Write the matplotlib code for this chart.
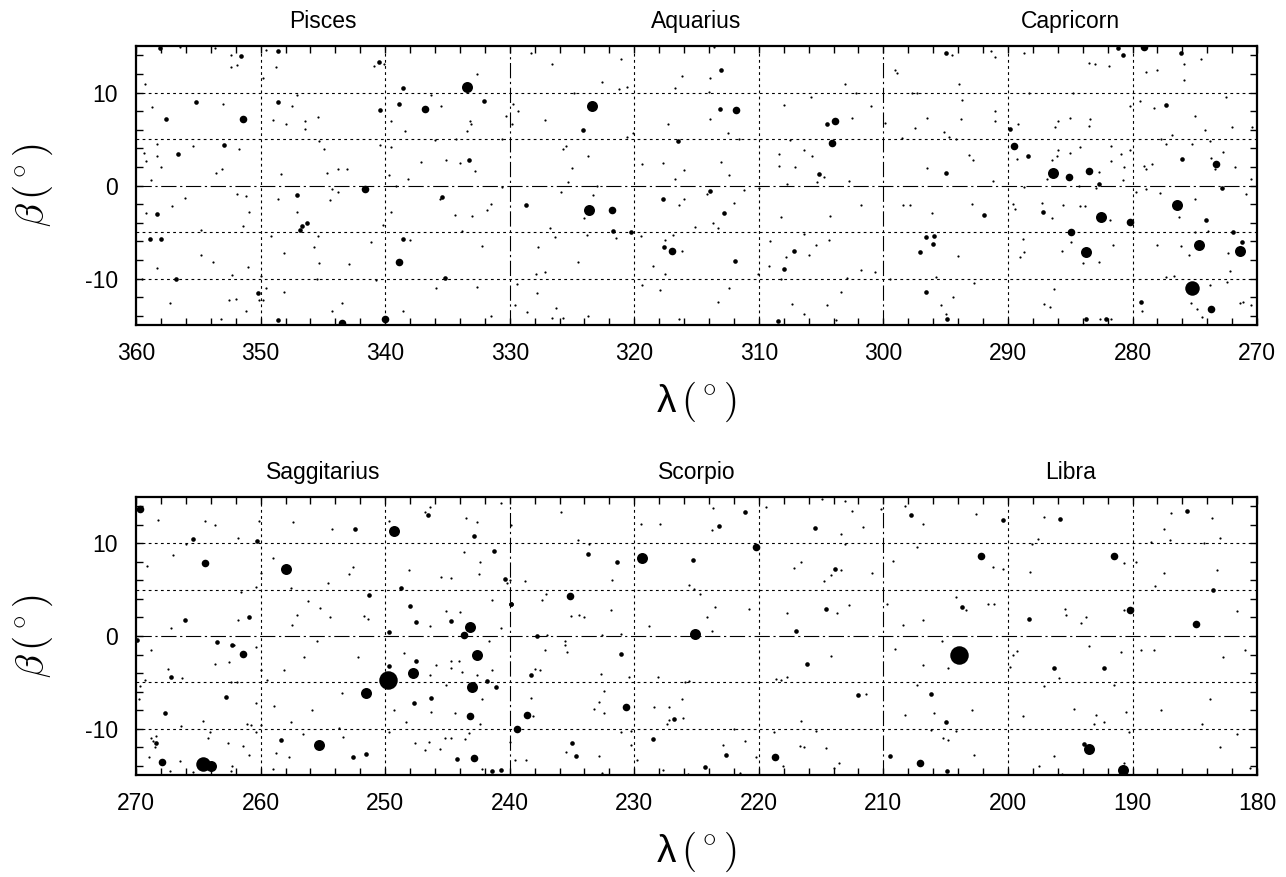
import matplotlib
matplotlib.use('Agg')
import matplotlib.pyplot as plt
from matplotlib.ticker import MultipleLocator
import numpy as np

plt.rcParams['font.family'] = ['Liberation Sans', 'DejaVu Sans']
plt.rcParams['mathtext.fontset'] = 'cm'
plt.rcParams['axes.unicode_minus'] = False
plt.rcParams['lines.scale_dashes'] = False

# ecliptic longitude / latitude of stars, grouped by brightness class
# top panel: 360..270 deg
top_mag6 = [
    (356.5, 14.9), (353.7, 14.8), (352.4, 14.0), (352.4, 12.8), (351.9, 13.0), (349.6, 14.6),
    (348.8, 12.8), (349.8, 11.6), (340.9, 12.9), (340.1, 13.1), (332.6, 12.0), (359.3, 10.9),
    (353.0, 8.8), (347.1, 9.7), (347.5, 8.6), (358.7, 8.4), (336.3, 9.7), (335.5, 8.5),
    (333.2, 6.9), (333.1, 6.6), (333.4, 5.9), (330.3, 7.5), (339.5, 6.9), (338.4, 5.9),
    (339.5, 4.1), (340.4, 4.4), (336.0, 4.9), (334.3, 5.0), (330.6, 5.0), (337.1, 2.5),
    (335.1, 2.7), (334.0, 2.4), (332.8, 1.6), (338.2, 0.7), (339.7, 1.1), (339.1, -0.1),
    (330.6, -0.2), (343.8, 1.8), (343.1, 1.8), (344.7, 1.4), (344.3, -0.4), (343.8, -0.7),
    (344.4, -1.6), (345.4, 7.4), (346.4, 6.9), (346.4, 6.1), (348.0, 6.6), (349.0, 7.1),
    (345.3, 4.8), (344.9, 3.9), (348.4, 1.2), (351.7, 3.9), (355.4, 4.3), (353.1, 1.8),
    (353.6, 1.4), (358.3, 4.5), (358.3, 3.2), (359.4, 3.5), (359.2, 2.6), (358.0, 2.0),
    (358.8, 0.6), (356.1, -1.3), (357.1, -2.2), (359.2, -3.0), (351.9, -0.9), (351.2, -1.1),
    (350.9, -2.9), (351.4, -4.4), (354.8, -4.8), (354.8, -7.5), (353.8, -8.2), (358.3, -8.9),
    (359.5, -10.1), (352.3, -9.6), (351.0, -8.8), (357.3, -12.6), (352.5, -12.3), (352.0, -12.2),
    (351.2, -13.5), (353.2, -14.3), (350.1, -12.3), (349.8, -12.3), (349.6, -11.0), (350.0, -9.7),
    (348.1, -11.5), (348.6, -1.5), (347.1, -2.8), (345.4, -5.4), (345.7, -6.6), (348.1, -7.3),
    (349.2, -5.4), (345.3, -8.3), (345.5, -10.1), (342.9, -8.4), (341.1, -6.1), (343.5, -12.6),
    (344.3, -13.5), (340.7, -10.2), (338.6, -13.5), (340.2, -4.2), (339.5, -2.8), (338.0, -5.9),
    (331.5, -2.0), (331.8, -2.6), (333.0, -3.3), (334.4, -3.2), (333.8, -4.9), (332.2, -6.5),
    (335.9, -11.0), (332.6, -10.9), (331.5, -14.0), (335.6, -1.5),
    (328.3, 14.2), (326.6, 13.1), (321.1, 13.6), (322.6, 11.1), (321.2, 10.4), (320.6, 10.6),
    (324.8, 9.9), (329.7, 8.8), (329.3, 8.0), (329.8, 6.6), (327.2, 7.0), (320.1, 5.7),
    (320.6, 5.2), (325.5, 4.3), (325.7, 3.9), (323.7, 3.2), (325.0, 1.9), (325.3, 0.4),
    (325.9, -0.7), (323.0, -0.1), (323.3, -1.0), (324.0, -3.5), (321.5, -5.6), (319.5, -5.4),
    (326.8, -4.6), (326.4, -5.5), (323.8, -5.3), (327.7, -6.6), (324.5, -8.2), (327.9, -9.5),
    (327.2, -9.3), (329.4, -10.6), (327.8, -11.6), (329.6, -12.9), (328.6, -13.6), (326.3, -13.2),
    (326.6, -14.2), (325.7, -14.2), (323.7, -14.0), (316.2, 11.8), (316.7, 10.5), (313.9, 11.6),
    (314.0, 10.1), (313.6, 14.9), (313.9, 7.2), (317.3, 6.6), (312.5, 5.7), (311.6, 5.0),
    (319.4, 2.3), (317.7, 2.4), (316.0, 1.7), (313.0, 2.5), (316.7, 0.7), (312.4, 1.1),
    (314.2, -0.9), (311.2, -0.5), (310.0, -0.3), (316.0, -1.4), (316.4, -2.1), (312.0, -1.9),
    (313.7, -4.0), (313.3, -4.6), (315.1, -4.5), (316.9, -5.3), (317.5, -5.9), (316.2, -7.0),
    (318.5, -8.6), (317.5, -9.5), (319.4, -10.7), (317.9, -11.2), (312.4, -11.0), (313.3, -12.5),
    (316.4, -14.4), (308.0, 8.7), (305.8, 9.5), (303.1, 10.9), (302.2, 9.9), (301.0, 8.6),
    (302.5, 7.3), (307.5, 4.9), (306.4, 3.8), (305.7, 3.2), (308.4, 3.4), (308.4, 2.1),
    (307.1, 2.0), (304.8, 0.9), (305.3, 0.4), (307.7, 0.2), (302.8, 0.5), (301.8, -2.1),
    (304.3, -3.3), (308.2, -3.4), (306.4, -5.2), (304.4, -5.9), (305.4, -6.4), (309.1, -6.0),
    (306.0, -7.5), (307.8, -7.7), (309.2, -8.6), (310.1, -9.5), (308.2, -10.0), (302.9, -9.9),
    (301.8, -9.1), (300.7, -9.3), (303.4, -11.4), (307.3, -12.7), (306.4, -13.8), (304.5, -12.8),
    (303.8, -14.5),
    (294.5, 14.0), (291.4, 14.5), (291.0, 13.8), (299.1, 12.4), (298.9, 12.1), (293.9, 10.9),
    (288.7, 14.3), (283.5, 13.2), (283.0, 13.1), (281.9, 12.9), (275.9, 13.1), (274.5, 13.6),
    (278.9, 12.2), (278.0, 12.4), (275.9, 11.3), (297.7, 10.0), (297.3, 10.0), (293.7, 9.2),
    (296.5, 7.3), (297.5, 6.2), (299.9, 6.7), (293.8, 7.2), (295.1, 5.8), (294.7, 5.2),
    (294.2, 5.0), (298.5, 5.1), (291.0, 8.0), (291.0, 6.9), (293.1, 3.3), (292.8, 2.7),
    (296.5, 1.9), (291.2, 0.5), (288.3, 10.0), (284.8, 9.9), (289.2, 6.6), (286.2, 6.3),
    (286.0, 6.9), (285.0, 7.3), (283.4, 7.2), (283.5, 6.4), (289.3, 2.9), (286.0, 3.8),
    (286.1, 3.2), (286.5, 2.7), (285.0, 3.5), (284.2, 4.1), (286.9, 0.7), (282.7, 1.5),
    (282.9, -0.3), (284.3, 0.0), (281.7, 4.3), (280.9, 3.4), (281.7, 2.6), (280.7, 2.0),
    (280.8, 0.6), (280.2, 8.5), (280.2, 3.8), (288.7, -0.2), (289.6, -2.0), (289.4, -2.5),
    (287.3, -1.9), (286.5, -3.5), (285.6, -2.1), (284.2, -2.2), (283.8, -2.2), (281.8, -3.7),
    (284.9, -6.1), (284.0, -8.3), (285.7, -7.0), (282.7, -8.2), (281.6, -6.4), (288.8, -5.8),
    (288.7, -7.2), (289.0, -7.7), (298.4, -2.1), (297.9, -2.1), (296.1, -3.0), (292.9, -2.0),
    (294.0, -7.6), (299.5, -10.0), (295.8, -9.8), (294.4, -12.0), (292.7, -10.5), (295.4, -12.9),
    (295.0, -13.8), (286.3, -11.1), (287.1, -12.7), (286.6, -13.1), (282.6, -14.3), (281.7, -14.4),
    (279.7, -0.7), (278.9, -0.4), (277.8, -0.8), (276.3, -3.4), (275.0, -1.5), (270.9, -0.9),
    (273.7, 3.0), (273.4, 1.8), (272.7, 3.6), (271.8, 2.0), (270.5, 0.7), (279.1, 2.1),
    (278.9, 1.8), (278.4, 2.3), (277.7, 5.0), (277.3, 4.5), (276.8, 5.4), (275.2, 4.5),
    (273.8, 4.8), (279.4, 9.1), (278.3, 8.3), (275.0, 7.5), (274.2, 6.0), (272.5, 9.5),
    (272.0, 6.3), (270.4, 6.3), (275.0, -5.0), (273.9, -4.9), (275.5, -7.5), (272.3, -7.3),
    (278.0, -6.4), (276.1, -6.5), (272.2, -9.2), (272.4, -10.4), (277.3, -9.8), (276.7, -9.7),
    (273.8, -10.7), (275.3, -12.6), (274.8, -13.3), (274.4, -14.1), (271.4, -12.6), (271.1, -12.5),
    (270.5, -12.9), (279.2, -13.5),
]
top_mag5 = [
    (358.1, 14.8), (351.6, 13.9), (348.6, 14.5), (340.5, 13.3), (338.6, 10.5), (355.2, 9.0),
    (348.6, 9.0), (357.6, 7.2), (338.9, 8.8), (340.4, 8.1), (332.1, 9.1), (333.3, 2.7),
    (352.9, 4.4), (356.6, 3.4), (358.3, -3.1), (358.9, -5.8), (358.0, -5.7), (356.8, -10.1),
    (350.2, -11.6), (348.6, -14.5), (347.1, -1.0), (346.3, -4.0), (346.7, -4.3), (346.8, -4.8),
    (338.6, -5.7), (335.4, -1.2), (335.2, -9.9),
    (313.0, 12.4), (313.1, 8.2), (324.1, 6.0), (316.5, 4.8), (328.7, -2.1), (321.7, -4.9),
    (320.3, -5.0), (313.9, -0.6), (317.7, -1.4), (312.8, -3.0), (317.6, -6.6), (311.9, -8.1),
    (308.5, -14.6), (304.5, 6.6), (305.2, 1.2), (307.2, -7.0), (308.0, -9.0),
    (295.0, 14.3), (281.2, 14.8), (280.8, 14.0), (276.1, 14.3), (295.0, 1.4), (289.8, 6.1),
    (288.4, 3.2), (282.7, 0.2), (287.2, -2.9), (291.9, -3.2), (296.6, -5.5), (295.9, -5.4),
    (296.0, -6.3), (297.1, -7.1), (296.6, -11.4), (294.9, -14.4), (283.7, -14.4), (282.1, -14.3),
    (274.1, -3.7), (272.8, -0.3), (276.0, 2.8), (277.3, 8.7), (271.9, -5.0), (271.2, -6.1),
    (279.3, -12.5),
]
top_mag4 = [
    (351.4, 7.2), (336.8, 8.2), (341.6, -0.4), (343.5, -14.8), (340.0, -14.4), (338.9, -8.2),
    (311.8, 8.1), (321.8, -2.6), (317.0, -7.0), (303.9, 6.9), (304.1, 4.6),
    (279.1, 14.9), (289.5, 4.2), (285.1, 0.9), (283.5, 1.6), (280.2, -3.9), (284.9, -5.0),
    (273.3, 2.3), (273.7, -13.3),
]
top_mag3 = [
    (333.4, 10.6), (323.4, 8.6), (323.6, -2.6),
    (286.4, 1.4), (282.5, -3.4), (283.7, -7.1), (276.4, -2.1), (274.7, -6.4), (271.4, -7.0),
]
top_mag2 = [(275.2, -11.0)]
top_mag1 = []

# bottom panel: 270..180 deg
bot_mag6 = [
    (268.2, 12.5), (266.0, 9.9), (264.5, 12.4), (263.7, 12.0), (267.0, 8.7), (269.1, 7.6),
    (261.8, 10.6), (260.1, 12.4), (260.4, 5.3), (261.6, 4.7), (261.8, 1.7), (267.2, 0.9),
    (268.8, -1.5), (262.1, -1.0), (263.7, -3.0), (262.5, -2.8), (260.4, -1.2), (267.4, -3.6),
    (266.3, -4.5), (269.3, -4.7), (269.7, -5.4), (269.8, -6.8), (260.4, -7.2), (261.9, -5.0),
    (262.4, -5.0), (266.4, -9.7), (264.6, -9.2), (264.1, -10.4), (264.2, -11.0), (268.8, -11.0),
    (268.6, -11.3), (268.4, -10.8), (268.5, -12.0), (269.0, -13.1), (267.3, -14.6), (265.4, -14.7),
    (266.5, -13.5), (262.3, -14.0), (262.4, -14.6), (262.6, -11.5), (261.4, -11.9), (260.9, -12.8),
    (261.1, -9.5), (260.8, -9.6), (260.4, -10.4), (260.0, -9.6), (259.5, -4.8), (260.0, -3.7),
    (260.0, 6.8), (259.0, 8.4), (257.4, 12.3), (257.6, 5.2), (256.2, 3.8), (257.1, 2.3),
    (257.5, 1.2), (255.2, 3.0), (254.4, 2.1), (254.6, 5.7), (254.3, 11.6), (255.5, -0.5),
    (256.5, -2.3), (258.1, -3.7), (258.9, -7.5), (255.9, -8.0), (253.5, -6.1), (257.6, -9.3),
    (258.8, -12.6), (257.7, -13.1), (256.6, -10.6), (253.7, -9.9), (253.4, -10.9), (259.0, -14.3),
    (252.6, 7.4), (252.9, 6.7), (251.7, 2.2), (251.4, 1.8), (252.2, -2.3), (249.7, 12.4),
    (246.8, 13.4), (246.4, 13.9), (248.1, 7.1), (246.4, 1.1), (248.5, -1.8), (246.4, -4.2),
    (246.3, -8.2), (249.3, -8.0), (248.3, -9.3), (249.7, -10.4), (247.6, -11.6), (246.8, -12.3),
    (246.5, -11.4), (245.6, -12.2), (245.9, -3.1), (245.1, 2.7), (244.0, 2.6), (245.5, 6.4),
    (244.7, 6.3), (243.7, 9.1), (243.5, 12.7), (242.6, 12.3), (242.4, 8.0), (242.5, 6.7),
    (240.7, 14.4), (241.4, 3.9), (240.7, 0.9), (241.7, -0.5), (244.7, -2.7), (244.1, -2.7),
    (244.7, -3.5), (243.8, -3.9), (242.6, -4.2), (241.4, -3.7), (242.2, -6.8), (245.1, -5.3),
    (244.4, -8.3), (242.4, -9.5), (243.3, -10.5), (245.2, -11.0), (244.7, -11.0), (243.6, -11.1),
    (242.2, -14.4), (240.0, 6.0),
    (239.9, 12.0), (235.9, 13.4), (234.5, 10.4), (233.6, 9.9), (231.8, 6.0), (238.8, 5.9),
    (240.2, 5.7), (237.1, 4.5), (237.4, 3.9), (235.1, 2.2), (234.4, 2.3), (234.0, 2.0),
    (231.9, 2.8), (237.0, 0.1), (235.6, -0.5), (235.6, -1.0), (235.4, -1.7), (237.2, -1.5),
    (232.6, 0.1), (231.1, 0.2), (238.0, -3.6), (237.6, -3.7), (232.7, -4.1), (232.4, -5.9),
    (238.3, -6.7), (232.8, -7.1), (233.2, -7.9), (232.4, -8.3), (238.1, -8.6), (240.0, -11.4),
    (239.6, -13.4), (238.7, -13.4), (235.5, -12.5), (232.8, -12.9), (232.6, -14.8), (231.1, -10.4),
    (230.3, -10.2), (230.3, -11.8), (230.4, -4.4), (229.5, 12.1), (227.9, 12.1), (223.7, 13.8),
    (223.8, 11.4), (225.6, 5.5), (225.2, 5.1), (224.7, 4.5), (223.5, 3.1), (224.2, 2.0),
    (220.8, 2.9), (228.8, 1.1), (223.8, 0.5), (228.1, -4.4), (225.9, -5.0), (225.6, -4.9),
    (226.2, -6.8), (228.4, -7.7), (227.2, -7.7), (226.1, -8.8), (227.2, -9.1), (227.4, -9.5),
    (229.8, -13.4), (227.7, -14.5), (225.7, -14.9), (222.9, -11.8), (222.0, -10.0), (221.1, -11.3),
    (221.5, -14.8), (220.2, -13.1), (219.4, 13.9), (214.9, 14.8), (213.1, 14.6), (212.5, 13.5),
    (213.4, 11.0), (211.6, 11.8), (213.1, 9.9), (210.2, 13.7), (216.6, 8.0), (217.2, 7.3),
    (213.4, 7.1), (214.2, 6.6), (214.8, 5.9), (210.9, 6.8), (213.7, 2.5), (212.8, 3.3),
    (217.7, 2.5), (214.2, -2.2), (218.6, -4.6), (218.2, -4.7), (217.7, -4.4), (211.4, -6.3),
    (216.6, -9.2), (215.4, -10.3), (218.8, -10.4), (216.7, -11.9), (216.4, -12.0), (214.6, -12.1),
    (218.1, -14.0), (214.0, -14.2), (213.6, -13.7),
    (208.3, 14.0), (206.8, 12.1), (202.6, 13.2), (207.3, 9.6), (209.2, 8.1), (201.2, 7.4),
    (200.4, 7.2), (204.2, 4.2), (203.4, 2.8), (201.6, 3.4), (201.1, 3.5), (209.7, 3.5),
    (206.8, 1.7), (208.4, 1.2), (205.3, -0.5), (209.1, -1.4), (206.8, -3.1), (204.8, -3.4),
    (207.3, -5.3), (208.3, -8.5), (205.9, -8.3), (202.9, -8.0), (206.2, -10.1), (204.2, -10.2),
    (205.2, -11.0), (204.8, -11.2), (202.7, -12.8), (197.1, 12.8), (197.6, 10.5), (198.1, 9.9),
    (198.2, 6.9), (190.7, 7.9), (189.7, 8.0), (195.4, 2.9), (195.3, 2.3), (194.1, 1.4),
    (193.7, 2.0), (190.7, 2.8), (193.5, -1.1), (190.9, -1.7), (199.6, -2.0), (199.3, -1.6),
    (199.8, -3.3), (195.9, -4.5), (197.1, -5.4), (191.5, -5.3), (194.7, -7.9), (192.9, -8.5),
    (192.3, -9.3), (193.1, -9.5), (190.5, -8.2), (198.8, -8.6), (190.3, -10.4), (196.3, -12.9),
    (197.5, -14.0), (195.7, -14.9), (190.7, -13.7), (189.3, -1.5), (188.3, -1.5), (187.5, 11.5),
    (187.0, 10.4), (188.5, 10.1), (186.9, 13.3), (183.6, 12.7), (183.0, 10.6), (184.3, 10.0),
    (187.5, 6.8), (188.2, 5.4), (183.2, 7.1), (181.6, 2.7), (182.7, -2.3), (181.0, -1.5),
    (187.7, -8.0), (183.8, -6.8), (184.4, -9.5), (181.6, -10.6), (183.0, -12.0), (180.6, -14.2),
]
bot_mag5 = [
    (265.4, 10.5), (260.3, 10.2), (260.9, 2.0), (266.1, 1.7), (269.9, -0.4), (263.5, -0.7),
    (262.3, -1.0), (267.2, -4.4), (267.7, -8.3), (262.8, -6.6), (268.4, -11.5), (252.4, 11.5),
    (258.4, -11.2), (252.6, -13.1), (251.5, -12.7), (251.3, 4.4), (246.6, 13.1), (248.7, 5.2),
    (248.0, 3.2), (247.5, 1.5), (249.7, 0.4), (247.5, -2.7), (249.7, -3.2), (247.7, -7.2),
    (246.3, -6.7), (244.7, 1.6), (242.9, 10.8), (241.3, 9.2), (240.4, 6.1), (239.9, 3.5),
    (241.8, -4.9), (241.1, -5.5), (244.2, -13.3), (241.4, -14.6), (240.7, -14.5),
    (233.7, 8.8), (231.4, 8.0), (239.9, 3.5), (237.8, 0.0), (231.1, -1.9), (238.3, -4.2),
    (235.0, -11.5), (234.7, -13.0), (223.2, 11.9), (221.1, 13.4), (225.3, 8.2), (228.5, -11.1),
    (224.3, -14.1), (222.6, -12.8), (226.8, -9.0), (215.5, 11.7), (213.9, 7.2), (214.6, 2.9),
    (217.0, 0.5), (216.1, -3.0), (212.0, -6.4), (209.5, -12.9),
    (207.8, 13.1), (200.4, 12.5), (203.7, 3.1), (206.2, -6.3), (205.0, -9.3), (204.9, -14.6),
    (195.8, 12.6), (198.3, 1.8), (196.3, -3.4), (192.3, -3.5), (193.9, -11.7), (185.6, 13.5),
    (183.5, 5.0),
]
bot_mag4 = [
    (269.7, 13.7), (264.5, 7.9), (261.4, -1.9), (267.9, -13.6), (243.7, 0.1), (243.2, -8.6),
    (242.9, -13.2), (235.2, 4.3), (230.7, -7.7), (238.6, -8.5), (239.4, -10.0), (220.2, 9.6),
    (218.7, -13.1), (202.2, 8.6), (207.1, -13.7), (191.5, 8.6), (190.2, 2.8), (184.9, 1.3),
]
bot_mag3 = [
    (258.0, 7.2), (251.5, -6.1), (255.3, -11.8), (249.3, 11.3), (247.8, -4.0), (243.2, 1.0),
    (242.6, -2.0), (243.0, -5.5), (264.0, -14.0), (229.4, 8.4), (225.1, 0.2),
    (193.5, -12.2), (190.8, -14.5),
]
bot_mag2 = [(264.6, -13.8)]
bot_mag1 = [(249.8, -4.7), (203.9, -2.0)]

top_names = ['Pisces', 'Aquarius', 'Capricorn']
bot_names = ['Saggitarius', 'Scorpio', 'Libra']

# marker diameter in pixels for each brightness class
diam_px = {6: 2.2, 5: 4.6, 4: 7.6, 3: 11.0, 2: 14.5, 1: 18.5}

fig = plt.figure(figsize=(12.86, 8.77), dpi=100)
ax_top = fig.add_axes([0.1058, 0.6294, 0.8717, 0.3181])
ax_bot = fig.add_axes([0.1058, 0.1163, 0.8717, 0.3170])

dotted = (0, (2.0, 2.4))
dashdot = (0, (11, 2.6, 1.6, 2.6))


def draw_panel(ax, lam_hi, names, groups):
    lam_lo = lam_hi - 90
    ax.set_xlim(lam_hi, lam_lo)
    ax.set_ylim(-15, 15)

    # grid: constellation borders dash-dot, the rest dotted
    for lam in range(lam_lo + 10, lam_hi, 10):
        ls = dashdot if (lam_hi - lam) % 30 == 0 else dotted
        ax.axvline(lam, color='black', lw=0.8, linestyle=ls, zorder=1)
    for b in (-10, -5, 5, 10):
        ax.axhline(b, color='black', lw=0.8, linestyle=dotted, zorder=1)
    ax.axhline(0, color='black', lw=0.8, linestyle=dashdot, zorder=1)

    for mag, stars in groups.items():
        if not stars:
            continue
        xy = np.array(stars)
        d = diam_px[mag] * 0.72
        ax.scatter(xy[:, 0], xy[:, 1], s=d ** 2, c='black', linewidths=0,
                   zorder=3, clip_on=True)

    ax.set_xticks(np.arange(lam_lo, lam_hi + 1, 10))
    ax.set_yticks([-10, 0, 10])
    ax.xaxis.set_minor_locator(MultipleLocator(2))
    ax.yaxis.set_minor_locator(MultipleLocator(2))
    ax.tick_params(which='both', direction='in', top=True, right=True,
                   length=5, width=1, labelsize=16.5)
    ax.tick_params(axis='x', pad=12)
    ax.tick_params(axis='y', pad=13)
    for sp in ax.spines.values():
        sp.set_linewidth(1.6)

    for i, name in enumerate(names):
        ax.annotate(name, xy=(lam_hi - 15 - 30 * i, 1.0),
                    xycoords=('data', 'axes fraction'),
                    xytext=(0, 13), textcoords='offset points',
                    ha='center', va='baseline', fontsize=16.5)

    ax.text(0.5, -0.276, r'λ$\,(^\circ)$', transform=ax.transAxes,
            ha='center', va='center', fontsize=28)
    ax.text(-0.092, 0.5, r'$\beta\,(^\circ)$', transform=ax.transAxes,
            ha='center', va='center', rotation=90, fontsize=28)


draw_panel(ax_top, 360, top_names,
           {6: top_mag6, 5: top_mag5, 4: top_mag4, 3: top_mag3, 2: top_mag2, 1: top_mag1})
draw_panel(ax_bot, 270, bot_names,
           {6: bot_mag6, 5: bot_mag5, 4: bot_mag4, 3: bot_mag3, 2: bot_mag2, 1: bot_mag1})

fig.savefig('out.png', dpi=100)
